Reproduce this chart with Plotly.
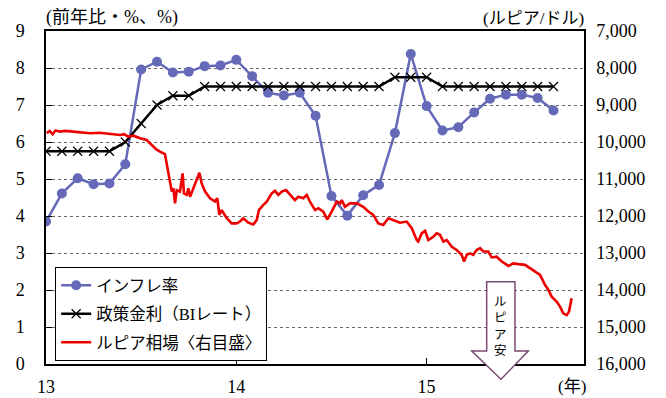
import plotly.graph_objects as go

# ---------------- data ----------------
month_index = list(range(33))  # Jan 2013 .. Sep 2015
inflation = [3.85, 4.61, 5.02, 4.86, 4.88, 5.40, 7.96, 8.17, 7.88, 7.90, 8.05, 8.07,
             8.22, 7.78, 7.33, 7.26, 7.33, 6.71, 4.54, 4.01, 4.56, 4.84, 6.24, 8.38,
             6.97, 6.31, 6.40, 6.80, 7.17, 7.28, 7.28, 7.19, 6.85]
policy_rate = [5.75, 5.75, 5.75, 5.75, 5.75, 6.00, 6.50, 7.00, 7.25, 7.25, 7.50, 7.50,
               7.50, 7.50, 7.50, 7.50, 7.50, 7.50, 7.50, 7.50, 7.50, 7.50, 7.75, 7.75,
               7.75, 7.50, 7.50, 7.50, 7.50, 7.50, 7.50, 7.50, 7.50]

rupiah_t = [13.004, 13.02, 13.035, 13.05, 13.074, 13.10, 13.142, 13.19, 13.231, 13.28,
            13.319, 13.36, 13.389, 13.41, 13.432, 13.46, 13.494, 13.529, 13.564, 13.58,
            13.599, 13.625, 13.634, 13.643, 13.652, 13.661, 13.669, 13.678, 13.687, 13.704,
            13.718, 13.725, 13.739, 13.748, 13.757, 13.774, 13.792, 13.806, 13.818, 13.836,
            13.862, 13.888, 13.900, 13.911, 13.923, 13.950, 13.976, 14.002, 14.019, 14.037,
            14.063, 14.089, 14.107, 14.119, 14.142, 14.160, 14.186, 14.203, 14.221, 14.239,
            14.261, 14.282, 14.308, 14.326, 14.352, 14.370, 14.387, 14.414, 14.431, 14.457,
            14.478, 14.501, 14.528, 14.545, 14.554, 14.571, 14.597, 14.633, 14.667, 14.694,
            14.720, 14.746, 14.772, 14.799, 14.825, 14.860, 14.895, 14.922, 14.948, 14.956,
            14.974, 14.992, 15.009, 15.035, 15.053, 15.070, 15.088, 15.106, 15.132, 15.158,
            15.184, 15.197, 15.211, 15.228, 15.245, 15.263, 15.281, 15.298, 15.324, 15.342,
            15.368, 15.395, 15.430, 15.456, 15.482, 15.517, 15.543, 15.570, 15.596, 15.622,
            15.640, 15.657, 15.684, 15.701, 15.718, 15.736, 15.748, 15.762]
rupiah = [9760, 9700, 9790, 9690, 9720, 9700, 9720, 9745, 9765, 9750,
          9765, 9790, 9810, 9790, 9855, 9830, 9900, 9945, 10130, 10200,
          10260, 10330, 10580, 10850, 11030, 11340, 11250, 11660, 11300, 11340,
          10850, 11390, 11430, 11250, 11480, 11250, 10980, 10830, 11120, 11340,
          11520, 11610, 11520, 11970, 11840, 12060, 12200, 12200, 12150, 12060,
          12180, 12230, 12110, 11840, 11700, 11610, 11390, 11320, 11430, 11340,
          11300, 11430, 11570, 11480, 11520, 11430, 11610, 11840, 11790, 11880,
          12090, 11880, 11610, 11660, 11570, 11750, 11660, 11660, 11750, 11880,
          11970, 12200, 12240, 12060, 12110, 12180, 12150, 12330, 12650, 12690,
          12470, 12400, 12650, 12560, 12470, 12510, 12690, 12650, 12830, 12920,
          13050, 13230, 13050, 13010, 13050, 12920, 12870, 12960, 12960, 13120,
          13100, 13230, 13350, 13280, 13300, 13320, 13410, 13500, 13590, 13860,
          14000, 14180, 14320, 14450, 14630, 14680, 14590, 14220]

year_ticks = [13, 14, 15]
year_labels = ["13", "14", "15"]
left_ticks = list(range(0, 10))
right_ticks = list(range(7000, 17000, 1000))
right_labels = [f"{v:,}" for v in right_ticks]

months = [13 + i / 12 for i in month_index]

FONT = "Liberation Serif, 'Noto Sans CJK JP', serif"
JP = "'Noto Sans CJK JP', sans-serif"

fig = go.Figure()
fig.add_trace(go.Scatter(
    x=months, y=inflation, name="インフレ率", mode="lines+markers", legendgroup="a",
    line=dict(color="#6469b8", width=2.5),
    marker=dict(symbol="circle", size=10, color="#6469b8")))
fig.add_trace(go.Scatter(
    x=months, y=policy_rate, name="政策金利（BIレート）", mode="lines+markers", legendgroup="b",
    line=dict(color="black", width=2.5),
    marker=dict(symbol="x-thin", size=9, color="black",
                line=dict(color="black", width=1.2))))
fig.add_trace(go.Scatter(
    x=rupiah_t, y=rupiah, name="ルピア相場〈右目盛〉", mode="lines", yaxis="y2", legendgroup="c",
    line=dict(color="#ee0000", width=2.6)))

# the page body adds an 8px offset, so the figure is sized 8px smaller
fig.update_layout(
    width=658, height=390,
    margin=dict(l=38, r=82, t=23, b=34, autoexpand=False),
    paper_bgcolor="white", plot_bgcolor="white",
    font=dict(family=FONT, size=18, color="black"),
    showlegend=True,
    legend=dict(x=0.017, y=0.291, xanchor="left", yanchor="top",
                bgcolor="white", bordercolor="black", borderwidth=1,
                font=dict(family=FONT, size=16.5), traceorder="grouped",
                tracegroupgap=4, itemwidth=30),
    xaxis=dict(range=[13, 15.827], tickvals=year_ticks, ticktext=year_labels,
               ticks="inside", ticklen=6, tickcolor="black",
               showline=True, linecolor="black", linewidth=1.5, mirror=True,
               showgrid=False, zeroline=False, ticklabelstandoff=6,
               tickfont=dict(size=18), automargin=False),
    yaxis=dict(range=[0, 9], tickvals=left_ticks,
               ticks="inside", ticklen=6, tickcolor="black",
               showline=True, linecolor="black", linewidth=1.5,
               showgrid=True, gridcolor="#666666", griddash="dot", gridwidth=1.2,
               zeroline=False, ticklabelstandoff=16, tickfont=dict(size=18),
               automargin=False),
    yaxis2=dict(range=[16000, 7000], overlaying="y", side="right",
                tickvals=right_ticks, ticktext=right_labels,
                ticks="", showline=True, linecolor="black", linewidth=1.5,
                showgrid=False, zeroline=False, ticklabelstandoff=7,
                tickfont=dict(size=18), automargin=False),
)

# arrow "ルピア安": shaft + head
fig.add_shape(type="rect", xref="paper", yref="paper", layer="above",
              x0=0.8191, x1=0.8717, y0=0.030, y1=0.2471,
              fillcolor="white", line=dict(color="#7a4a70", width=1.5))
fig.add_shape(type="path", xref="paper", yref="paper", layer="above",
              path="M 0.7913 0.0390 L 0.8965 0.0390 L 0.8457 -0.0459 Z",
              fillcolor="white", line=dict(color="#7a4a70", width=1.5))
fig.add_shape(type="line", xref="paper", yref="paper", layer="above",
              x0=0.8205, x1=0.8703, y0=0.0390, y1=0.0390,
              line=dict(color="white", width=2.5))
fig.add_annotation(xref="paper", yref="paper", x=0.8457, y=0.118,
                   xanchor="center", yanchor="middle",
                   text="ル<br>ピ<br>ア<br>安", showarrow=False,
                   font=dict(family=JP, size=12.5, color="black"))

fig.add_annotation(xref="paper", yref="paper", x=-0.003, y=1.0, xanchor="left", yanchor="bottom",
                   yshift=1, text="(前年比・%、%)", showarrow=False,
                   font=dict(family=FONT, size=18))
fig.add_annotation(xref="paper", yref="paper", x=1.004, y=1.0, xanchor="right", yanchor="bottom",
                   yshift=1, text="(ルピア/ドル)", showarrow=False,
                   font=dict(family=FONT, size=17))
fig.add_annotation(xref="paper", yref="paper", x=1.007, y=-0.068, xanchor="right", yanchor="middle",
                   text="(年)", showarrow=False,
                   font=dict(family=FONT, size=17))

fig.write_html("out.html")
